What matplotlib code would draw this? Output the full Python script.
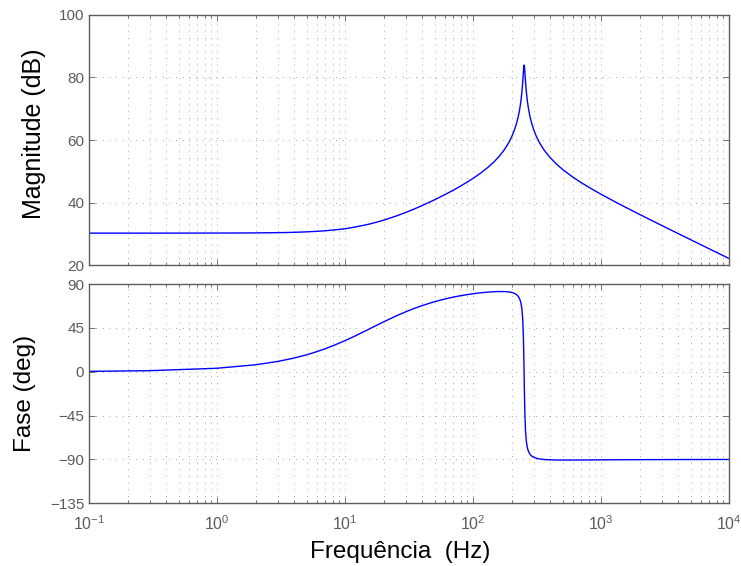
import matplotlib
matplotlib.use("Agg")
import matplotlib.pyplot as plt
from matplotlib.ticker import LogLocator, NullFormatter, FixedLocator

plt.rcParams['font.family'] = ['Liberation Sans', 'DejaVu Sans']
plt.rcParams['mathtext.fontset'] = 'custom'
plt.rcParams['mathtext.rm'] = 'Liberation Sans'
plt.rcParams['mathtext.it'] = 'Liberation Sans:italic'
plt.rcParams['mathtext.bf'] = 'Liberation Sans:bold'

# Magnitude curve
mag_freq = [0.1, 0.3, 1, 2, 3, 4, 5, 6, 7, 8, 10, 12, 15, 18, 20, 25, 30, 35, 40,
            50, 60, 70, 80, 90, 100, 115, 130, 145, 160, 175, 190, 200, 210, 218,
            225, 231, 236, 240, 244, 247, 249, 250, 251, 253, 256, 260, 265, 270,
            277, 285, 295, 310, 330, 360, 400, 450, 500, 600, 700, 850, 1000,
            1300, 1600, 2000, 2500, 3000, 4000, 5000, 6500, 8000, 10000]
mag_db = [30.2, 30.2, 30.22, 30.27, 30.35, 30.46, 30.61, 30.77, 30.96, 31.18, 31.6,
          32.16, 32.97, 33.8, 34.35, 35.66, 36.88, 38.0, 39.03, 40.88, 42.5, 43.95,
          45.29, 46.55, 47.74, 49.48, 51.2, 52.96, 54.82, 56.86, 59.21, 61.04,
          63.21, 65.32, 67.5, 69.94, 72.54, 75.23, 78.8, 82.03, 83.7, 83.99, 83.73,
          82.06, 78.94, 75.53, 72.44, 70.15, 67.73, 65.64, 63.62, 61.35, 59.09,
          56.63, 54.31, 52.19, 50.56, 48.13, 46.32, 44.24, 42.61, 40.09, 38.17,
          36.15, 34.17, 32.55, 30.03, 28.08, 25.79, 23.98, 22.04]

# Phase curve
ph_freq = [0.1, 0.3, 1, 2, 3, 4, 5, 6, 7, 8, 10, 12, 15, 18, 20, 25, 30, 35, 40,
           50, 60, 70, 80, 90, 100, 115, 130, 145, 160, 175, 190, 200, 210, 218,
           225, 231, 236, 240, 244, 247, 249, 250, 251, 253, 256, 260, 265, 270,
           277, 285, 295, 310, 330, 360, 400, 450, 500, 600, 700, 850, 1000,
           1300, 1600, 2000, 2500, 3000, 4000, 5000, 6500, 8000, 10000]
ph_deg = [0.36, 1.07, 3.58, 7.13, 10.62, 14.04, 17.35, 20.56, 23.63, 26.57, 31.93,
          36.78, 43.04, 48.24, 51.19, 57.19, 61.71, 65.17, 67.9, 71.88, 74.6, 76.56,
          78.04, 79.16, 80.04, 81.01, 81.67, 82.1, 82.3, 82.26, 81.89, 81.36, 80.42,
          79.16, 77.31, 74.6, 70.62, 64.8, 52.9, 33.39, 10.4, -3.66, -17.65, -40.26,
          -59.58, -71.32, -78.15, -81.64, -84.45, -86.26, -87.6, -88.73, -89.53,
          -90.08, -90.41, -90.57, -90.61, -90.61, -90.56, -90.49, -90.43, -90.34,
          -90.28, -90.23, -90.19, -90.16, -90.12, -90.09, -90.07, -90.05, -90.04]

mag_ticks = [20, 40, 60, 80, 100]
ph_ticks = [-135, -90, -45, 0, 45, 90]

fig = plt.figure(figsize=(7.41, 5.66), dpi=100)
ax1 = fig.add_axes([0.1201, 0.5318, 0.8641, 0.4417])
ax2 = fig.add_axes([0.1201, 0.1108, 0.8641, 0.3874])

line_color = '#0000ff'
ax1.semilogx(mag_freq, mag_db, color=line_color, lw=1.0)
ax2.semilogx(ph_freq, ph_deg, color=line_color, lw=1.0)

ax1.set_ylim(20, 100)
ax1.yaxis.set_major_locator(FixedLocator(mag_ticks))
ax2.set_ylim(-135, 90)
ax2.yaxis.set_major_locator(FixedLocator(ph_ticks))

spine_col = '#5c5c5c'
tick_col = '#5c5c5c'
for ax in (ax1, ax2):
    ax.set_xlim(0.1, 1e4)
    ax.xaxis.set_major_locator(LogLocator(base=10, numticks=10))
    ax.xaxis.set_minor_locator(LogLocator(base=10, subs=range(2, 10), numticks=20))
    ax.xaxis.set_minor_formatter(NullFormatter())
    ax.grid(True, which='major', axis='both', color='#8a8a8a', lw=0.6,
            linestyle=(0, (1, 7)))
    ax.grid(True, which='minor', axis='x', color='#8a8a8a', lw=0.6,
            linestyle=(0, (1, 7)))
    ax.tick_params(which='both', direction='in', top=True, right=True,
                   colors=tick_col, labelcolor=tick_col)
    ax.tick_params(axis='y', labelsize=11)
    ax.tick_params(axis='x', labelsize=11.5, pad=8)
    ax.tick_params(which='major', length=4, width=0.6)
    ax.tick_params(which='minor', length=2, width=0.6)
    for s in ax.spines.values():
        s.set_color(spine_col)
        s.set_linewidth(1.0)

ax1.tick_params(axis='x', labelbottom=False)

ax1.set_ylabel('Magnitude (dB)', fontsize=18, color='black', labelpad=9)
ax1.yaxis.label.set_y(0.525)
ax2.set_ylabel('Fase (deg)', fontsize=17.5, color='black', labelpad=10)
ax2.set_xlabel('Frequência  (Hz)', fontsize=17.5, color='black', labelpad=6)
ax2.xaxis.label.set_x(0.4867)

fig.savefig('out.png', dpi=100)
